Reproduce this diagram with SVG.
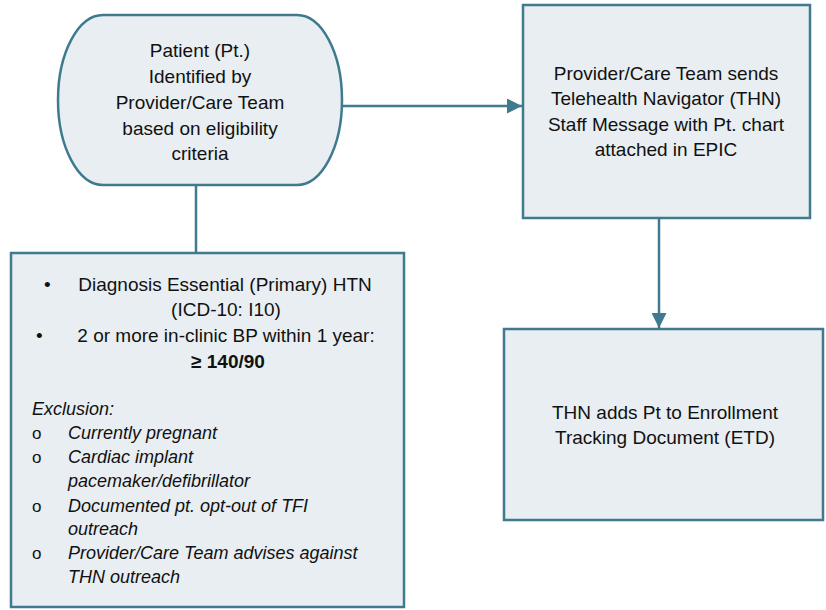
<svg xmlns="http://www.w3.org/2000/svg" width="826" height="610" viewBox="0 0 826 610">
<defs>
<style>
.box{fill:#e8eef1;stroke:#3f7a8f;stroke-width:2.5}
.ln{fill:none;stroke:#3f7a8f;stroke-width:2.5}
text{font-family:"Liberation Sans",Arial,sans-serif;font-size:19px;fill:#111}
.c{text-anchor:middle}
.i{font-style:italic;font-size:18px}
.b{font-weight:bold}
.o{font-size:17px}
</style>
<marker id="ah" viewBox="0 0 10 10" refX="10" refY="5" markerWidth="6.5" markerHeight="6" markerUnits="strokeWidth" orient="auto">
<path d="M0,0L10,5L0,10z" fill="#3f7a8f"/>
</marker>
</defs>
<rect width="826" height="610" fill="#fff"/>
<g id="connectors">
<path class="ln" d="M342,106H522" marker-end="url(#ah)"/>
<path class="ln" d="M659,218V328" marker-end="url(#ah)"/>
<path class="ln" d="M196,185V253"/>
</g>
<g id="patient">
<rect class="box" x="58" y="15" width="284" height="170" rx="45" ry="85"/>
<text class="c" x="200" y="57">Patient (Pt.)</text>
<text class="c" x="200" y="83">Identified by</text>
<text class="c" x="200" y="109">Provider/Care Team</text>
<text class="c" x="200" y="135">based on eligibility</text>
<text class="c" x="200" y="160">criteria</text>
</g>
<g id="sendMessage">
<rect class="box" x="523" y="5" width="287" height="213"/>
<text class="c" x="666" y="80">Provider/Care Team sends</text>
<text class="c" x="666" y="105">Telehealth Navigator (THN)</text>
<text class="c" x="666" y="131">Staff Message with Pt. chart</text>
<text class="c" x="666" y="156">attached in EPIC</text>
</g>
<g id="addETD">
<rect class="box" x="504" y="329" width="319" height="191"/>
<text class="c" x="665" y="419">THN adds Pt to Enrollment</text>
<text class="c" x="665" y="444">Tracking Document (ETD)</text>
</g>
<g id="criteria">
<rect class="box" x="11" y="253" width="393" height="354"/>
<text x="44" y="291">•</text>
<text class="c" x="225" y="291">Diagnosis Essential (Primary) HTN</text>
<text class="c" x="226" y="316">(ICD-10: I10)</text>
<text x="36" y="342">•</text>
<text class="c" x="226" y="342">2 or more in-clinic BP within 1 year:</text>
<text class="c b" x="228" y="368">≥ 140/90</text>
<text class="i" x="32" y="415">Exclusion:</text>
<text class="o" x="32" y="439">o</text>
<text class="i" x="68" y="439">Currently pregnant</text>
<text class="o" x="32" y="463">o</text>
<text class="i" x="68" y="463">Cardiac implant</text>
<text class="i" x="68" y="487">pacemaker/defibrillator</text>
<text class="o" x="32" y="512">o</text>
<text class="i" x="68" y="512">Documented pt. opt-out of TFI</text>
<text class="i" x="68" y="535">outreach</text>
<text class="o" x="32" y="559">o</text>
<text class="i" x="68" y="559">Provider/Care Team advises against</text>
<text class="i" x="68" y="583">THN outreach</text>
</g>
</svg>
